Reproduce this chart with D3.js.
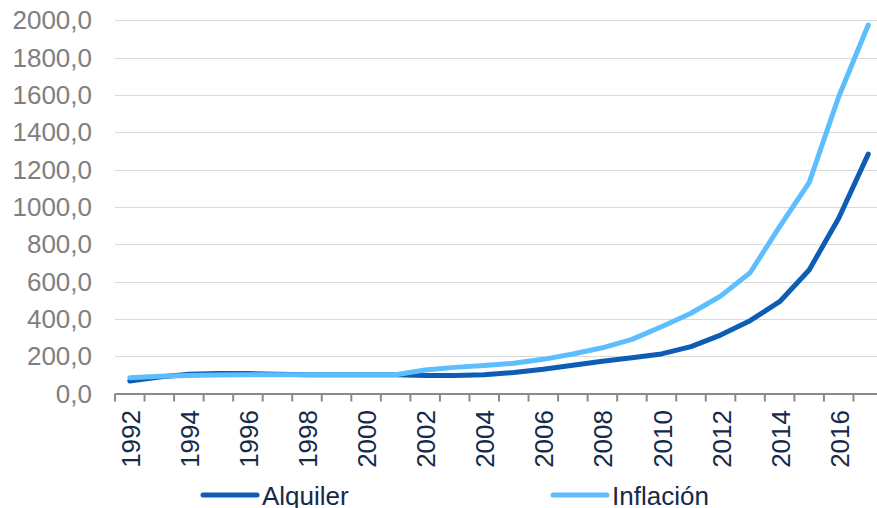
<!DOCTYPE html>
<html><head><meta charset="utf-8">
<script src="https://cdn.jsdelivr.net/npm/d3@7"></script>
<style>html,body{margin:0;padding:0;background:#fff;overflow:hidden}</style>
</head><body>
<svg id="c" width="877" height="508"></svg>
<script>
const years = d3.range(1992, 2018).map(String);
const alquiler = [67, 88, 103, 107, 107, 103, 101, 100, 100, 100, 97, 96, 100, 113, 130, 151, 173, 192, 212, 251, 313, 390, 492, 662, 939, 1283];
const inflacion = [85, 92, 97, 99, 100, 100, 100, 100, 100, 100, 126, 140, 150, 162, 183, 212, 245, 290, 358, 430, 522, 647, 894, 1130, 1590, 1975];
const yTicks = [0, 200, 400, 600, 800, 1000, 1200, 1400, 1600, 1800, 2000];
const seriesNames = ["Alquiler", "Inflación"];
const colors = ["#0c5db3", "#5dbefd"];

const svg = d3.select("#c");
const font = "'Liberation Sans', Arial, sans-serif";
const fs = 26;
const x = d3.scaleBand().domain(years).range([115, 883]).padding(0);
const y = d3.scaleLinear().domain([0, 2000]).range([393.5, 20.3]);

// gridlines
svg.append("g").selectAll("line").data(yTicks.filter(d => d > 0)).join("line")
  .attr("x1", 115).attr("x2", 883)
  .attr("y1", d => Math.round(y(d)) + 0.5).attr("y2", d => Math.round(y(d)) + 0.5)
  .attr("stroke", "#d9d9d9").attr("stroke-width", 1);

// y labels
svg.append("g").selectAll("text").data(yTicks).join("text")
  .attr("x", 92).attr("y", d => y(d)).attr("dy", "0.35em")
  .attr("text-anchor", "end").attr("font-family", font).attr("font-size", fs)
  .attr("fill", "#808080")
  .text(d => d3.format(".1f")(d).replace(".", ","));

// x axis
const xa = svg.append("g").attr("transform", `translate(0,${y(0)})`)
  .call(d3.axisBottom(x).tickSize(0).tickFormat(""));
xa.select(".domain").attr("stroke", "#8a8a8a").attr("stroke-width", 2);
xa.selectAll(".tick").remove();
svg.append("g").selectAll("line").data(years.concat(["end"])).join("line")
  .attr("x1", (d, i) => 115 + i * x.bandwidth()).attr("x2", (d, i) => 115 + i * x.bandwidth())
  .attr("y1", y(0)).attr("y2", y(0) + 8)
  .attr("stroke", "#8a8a8a").attr("stroke-width", 2);

// x labels
svg.append("g").selectAll("text").data(years.filter((d, i) => i % 2 === 0)).join("text")
  .attr("transform", d => `translate(${x(d) + x.bandwidth() / 2 + 1},410) rotate(-90)`)
  .attr("dy", "0.35em").attr("text-anchor", "end")
  .attr("font-family", font).attr("font-size", fs).attr("fill", "#15294a")
  .text(d => d);

// lines
const line = d3.line().x((d, i) => x(years[i]) + x.bandwidth() / 2).y(d => y(d));
[alquiler, inflacion].forEach((s, k) => {
  svg.append("path").datum(s).attr("d", line)
    .attr("fill", "none").attr("stroke", colors[k]).attr("stroke-width", 5)
    .attr("stroke-linejoin", "round").attr("stroke-linecap", "round");
});

// legend
const legX = [203, 553];
seriesNames.forEach((n, k) => {
  svg.append("line").attr("x1", legX[k]).attr("x2", legX[k] + 54)
    .attr("y1", 495).attr("y2", 495)
    .attr("stroke", colors[k]).attr("stroke-width", 5).attr("stroke-linecap", "round");
  svg.append("text").attr("x", legX[k] + 59).attr("y", 505)
    .attr("font-family", font).attr("font-size", fs).attr("fill", "#15294a")
    .text(n);
});
</script>
</body></html>
